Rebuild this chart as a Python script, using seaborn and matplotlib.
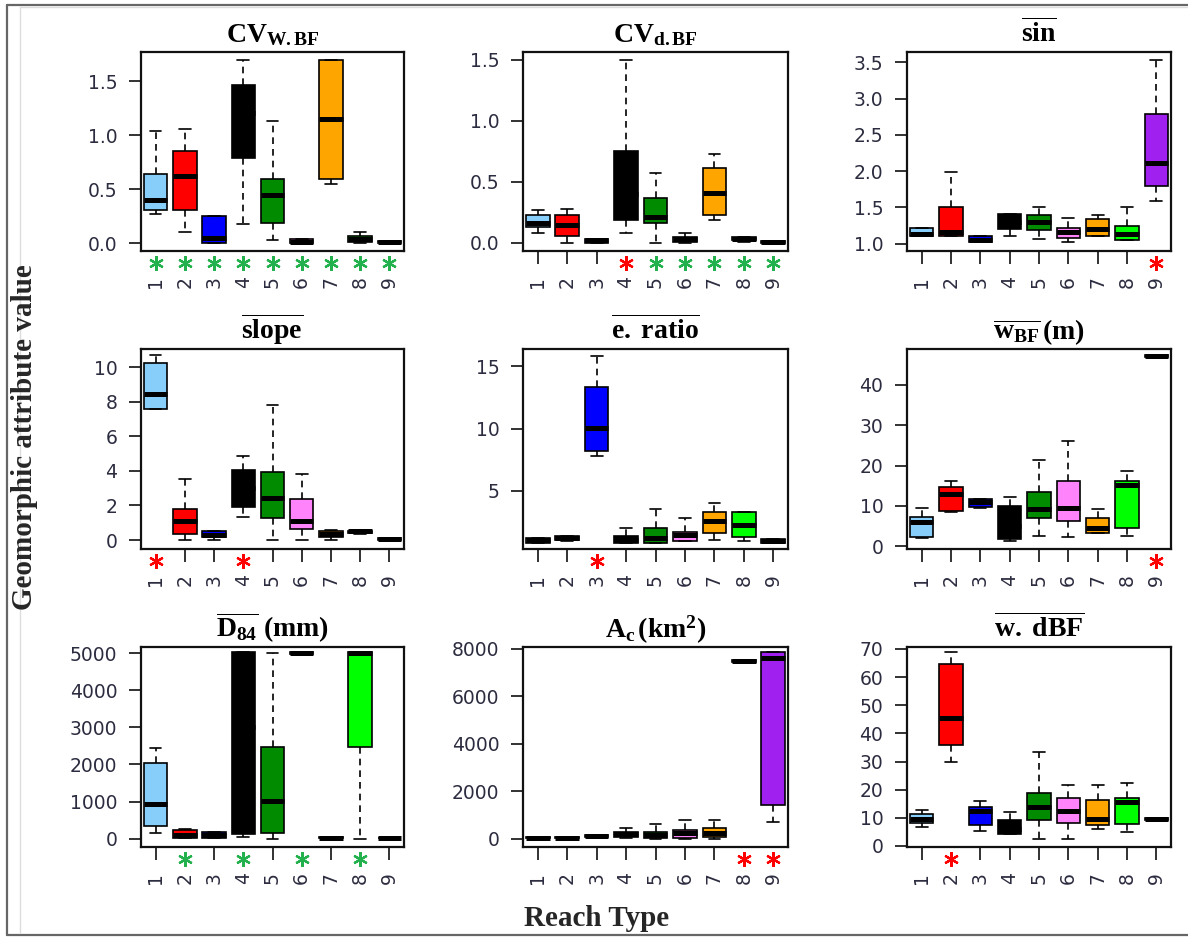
import numpy as np
import pandas as pd
import matplotlib
matplotlib.use("Agg")
import matplotlib.pyplot as plt
import matplotlib.transforms as mtransforms
from matplotlib.lines import Line2D
import seaborn as sns

# ---------------- data ----------------
reach_types = ["1", "2", "3", "4", "5", "6", "7", "8", "9"]
reach_colors = ["#87CEFA", "#FF0000", "#0000FF", "#000000", "#008B00",
                "#FF83FA", "#FFA500", "#00FF00", "#A020F0"]

# five-number summaries per reach type: [min, Q1, median, Q3, max]
cv_wbf = [[0.27, 0.31, 0.40, 0.64, 1.04], [0.10, 0.31, 0.62, 0.85, 1.06],
          [0.00, 0.00, 0.05, 0.25, 0.25], [0.18, 0.79, 1.20, 1.46, 1.69],
          [0.03, 0.19, 0.45, 0.59, 1.13], [0.00, 0.00, 0.01, 0.04, 0.04],
          [0.545, 0.59, 1.15, 1.69, 1.69], [0.00, 0.01, 0.04, 0.07, 0.10],
          [0.00, 0.00, 0.01, 0.02, 0.02]]
cv_dbf = [[0.085, 0.13, 0.165, 0.23, 0.27], [0.00, 0.06, 0.15, 0.23, 0.28],
          [0.00, 0.00, 0.02, 0.035, 0.035], [0.085, 0.19, 0.40, 0.75, 1.50],
          [0.00, 0.165, 0.21, 0.37, 0.575], [0.00, 0.005, 0.03, 0.05, 0.085],
          [0.19, 0.23, 0.41, 0.61, 0.73], [0.01, 0.02, 0.035, 0.045, 0.045],
          [0.00, 0.00, 0.005, 0.015, 0.015]]
sin_mean = [[1.11, 1.11, 1.14, 1.21, 1.21], [1.10, 1.11, 1.16, 1.51, 1.99],
            [1.02, 1.03, 1.05, 1.10, 1.10], [1.105, 1.20, 1.30, 1.405, 1.405],
            [1.06, 1.19, 1.30, 1.40, 1.51], [1.02, 1.08, 1.16, 1.22, 1.36],
            [1.105, 1.105, 1.20, 1.34, 1.40], [1.05, 1.05, 1.14, 1.25, 1.51],
            [1.59, 1.80, 2.11, 2.785, 3.53]]
slope_mean = [[7.58, 7.58, 8.47, 10.25, 10.73], [0.0, 0.35, 1.10, 1.78, 3.54],
              [0.0, 0.15, 0.30, 0.50, 0.50], [1.32, 1.90, 3.00, 4.06, 4.84],
              [0.0, 1.26, 2.42, 3.93, 7.83], [0.0, 0.64, 1.10, 2.38, 3.83],
              [0.0, 0.15, 0.35, 0.55, 0.60], [0.35, 0.40, 0.50, 0.55, 0.55],
              [0.0, 0.0, 0.05, 0.10, 0.10]]
eratio_mean = [[0.75, 0.80, 1.00, 1.15, 1.15], [0.97, 1.00, 1.20, 1.35, 1.35],
               [7.82, 8.20, 10.08, 13.33, 15.80], [0.75, 0.80, 1.00, 1.34, 1.96],
               [0.75, 0.75, 1.20, 1.96, 3.50], [0.97, 0.97, 1.42, 1.69, 2.82],
               [1.02, 1.61, 2.58, 3.31, 4.03], [0.97, 1.29, 2.23, 3.31, 3.31],
               [0.80, 0.80, 0.95, 1.10, 1.10]]
wbf_mean = [[2.0, 2.4, 6.0, 7.3, 9.5], [8.4, 8.8, 13.0, 14.6, 16.1],
            [9.6, 9.7, 10.9, 11.6, 11.6], [1.2, 1.9, 5.0, 9.9, 12.1],
            [2.6, 7.0, 9.2, 13.4, 21.3], [2.2, 6.3, 9.5, 16.1, 26.1],
            [3.2, 3.2, 4.5, 7.1, 9.2], [2.6, 4.65, 15.2, 16.1, 18.6],
            [46.9, 47.0, 47.2, 47.4, 47.4]]
d84_mean = [[162, 333, 920, 2027, 2450], [20, 30, 100, 230, 270],
            [20, 30, 90, 170, 180], [45, 135, 3000, 5018, 5018],
            [0, 162, 1018, 2477, 5000], [4980, 4985, 5000, 5015, 5015],
            [0, 5, 20, 40, 40], [0, 2477, 5000, 5018, 5018],
            [0, 5, 15, 30, 30]]
ac_km2 = [[0, 10, 30, 60, 60], [0, 10, 30, 60, 60],
          [40, 60, 100, 150, 150], [20, 50, 180, 282, 451],
          [0, 40, 150, 282, 635], [0, 40, 250, 381, 804],
          [0, 60, 254, 451, 804], [7400, 7430, 7480, 7530, 7530],
          [705, 1410, 7600, 7856, 7856]]
wdbf_mean = [[6.6, 8.1, 9.5, 11.3, 12.9], [29.8, 36.0, 45.5, 64.7, 68.8],
             [5.4, 7.5, 12.5, 13.9, 15.9], [4.2, 4.3, 6.0, 9.2, 12.2],
             [2.4, 9.2, 13.9, 18.7, 33.4], [2.4, 8.1, 12.3, 17.0, 21.8],
             [6.2, 7.4, 9.5, 16.3, 21.8], [4.8, 7.7, 15.5, 17.0, 22.4],
             [9.2, 9.3, 9.6, 10.0, 10.0]]

panel_data = [cv_wbf, cv_dbf, sin_mean, slope_mean, eratio_mean,
              wbf_mean, d84_mean, ac_km2, wdbf_mean]

panel_titles = [
    r"$\mathbf{CV}_{\mathbf{W.BF}}$",
    r"$\mathbf{CV}_{\mathbf{d.BF}}$",
    r"$\overline{\mathbf{sin}}$",
    r"$\overline{\mathbf{slope}}$",
    r"$\overline{\mathbf{e.\ ratio}}$",
    r"$\overline{\mathbf{w}_{\mathbf{BF}}}\,\mathbf{(m)}$",
    r"$\overline{\mathbf{D}_{\mathbf{84}}}\ \mathbf{(mm)}$",
    r"$\mathbf{A}_{\mathbf{c}}\,\mathbf{(km}^{\mathbf{2}}\mathbf{)}$",
    r"$\overline{\mathbf{w.\ dBF}}$",
]

panel_yticks = [[0, 0.5, 1.0, 1.5], [0, 0.5, 1.0, 1.5], [1.0, 1.5, 2.0, 2.5, 3.0, 3.5],
                [0, 2, 4, 6, 8, 10], [5, 10, 15], [0, 10, 20, 30, 40],
                [0, 1000, 2000, 3000, 4000, 5000], [0, 2000, 4000, 6000, 8000],
                [0, 10, 20, 30, 40, 50, 60, 70]]
panel_yticklabels = [["0.0", "0.5", "1.0", "1.5"], ["0.0", "0.5", "1.0", "1.5"],
                     ["1.0", "1.5", "2.0", "2.5", "3.0", "3.5"],
                     ["0", "2", "4", "6", "8", "10"], ["5", "10", "15"],
                     ["0", "10", "20", "30", "40"],
                     ["0", "1000", "2000", "3000", "4000", "5000"],
                     ["0", "2000", "4000", "6000", "8000"],
                     ["0", "10", "20", "30", "40", "50", "60", "70"]]
panel_ylims = [(-0.071, 1.768), (-0.066, 1.563), (0.90, 3.641),
               (-0.52, 11.06), (0.30, 16.40), (-0.67, 48.9),
               (-225, 5162), (-353, 8082), (-0.36, 70.7)]

GREEN_STAR = "#22B14C"
RED_STAR = "#FF0000"
# significance asterisks: reach type -> colour
panel_stars = [
    {r: GREEN_STAR for r in reach_types},
    {"4": RED_STAR, "5": GREEN_STAR, "6": GREEN_STAR, "7": GREEN_STAR,
     "8": GREEN_STAR, "9": GREEN_STAR},
    {"9": RED_STAR},
    {"1": RED_STAR, "4": RED_STAR},
    {"3": RED_STAR},
    {"9": RED_STAR},
    {"2": GREEN_STAR, "4": GREEN_STAR, "6": GREEN_STAR, "8": GREEN_STAR},
    {"8": RED_STAR, "9": RED_STAR},
    {"2": RED_STAR},
]

# ---------------- style ----------------
sns.set_theme(style="ticks")
plt.rcParams.update({
    "font.family": ["DejaVu Sans"],
    "mathtext.fontset": "custom",
    "mathtext.rm": "Liberation Serif",
    "mathtext.bf": "Liberation Serif:bold",
    "mathtext.it": "Liberation Serif:italic",
})

W, H = 1188, 938
fig = plt.figure(figsize=(W / 100, H / 100), dpi=100)
fig.patch.set_facecolor("white")

col_lr = [(141, 404), (523, 788), (907, 1171)]
row_tb = [(52, 251), (349, 549), (647, 847)]

palette = dict(zip(reach_types, reach_colors))

for i, summ in enumerate(panel_data):
    r, c = divmod(i, 3)
    (x0, x1), (y0, y1) = col_lr[c], row_tb[r]
    ax = fig.add_axes([x0 / W, 1 - y1 / H, (x1 - x0) / W, (y1 - y0) / H])

    df = pd.DataFrame({
        "reach": np.repeat(reach_types, 5),
        "value": np.concatenate([np.asarray(s, dtype=float) for s in summ]),
    })
    sns.boxplot(data=df, x="reach", y="value", hue="reach",
                order=reach_types, hue_order=reach_types, palette=palette,
                legend=False, dodge=False, saturation=1, width=0.8,
                whis=(0, 100), showfliers=False, linecolor="black",
                linewidth=1.2,
                medianprops=dict(color="black", linewidth=3.6,
                                 solid_capstyle="butt"),
                whiskerprops=dict(linestyle=(0, (4, 3))),
                ax=ax)

    ax.set_xlim(-0.5, 8.5)
    ax.set_ylim(*panel_ylims[i])
    ax.set_xlabel("")
    ax.set_ylabel("")
    ax.set_yticks(panel_yticks[i], panel_yticklabels[i])
    ax.set_xticks(range(len(reach_types)), reach_types)
    ax.tick_params(axis="both", direction="out", length=9, width=1.3,
                   color="#222222", labelsize=13.5, labelcolor="#2c2c40",
                   pad=8, bottom=True, left=True)
    ax.tick_params(axis="x", labelrotation=90, pad=9)
    for sp in ax.spines.values():
        sp.set_visible(True)
        sp.set_linewidth(1.6)
        sp.set_color("#111111")

    ax.set_title(panel_titles[i], fontsize=20, pad=7, color="black")

    # asterisks replace the tick marks
    stars = panel_stars[i]
    xticks = ax.xaxis.get_major_ticks()
    offset = mtransforms.ScaledTranslation(0, -12 / 100, fig.dpi_scale_trans)
    for rt, col in stars.items():
        k = reach_types.index(rt)
        xticks[k].tick1line.set_visible(False)
        ax.plot([k], [0], transform=ax.get_xaxis_transform() + offset,
                marker=(6, 2, 0), markersize=10.5, markeredgewidth=1.6,
                color=col, linestyle="none", clip_on=False)

# axis labels for the whole figure
fig.text(25 / W, 1 - 437 / H, "Geomorphic attribute value", rotation=90,
         ha="center", va="center", fontsize=21, fontweight="bold",
         family="Liberation Serif")
fig.text(597 / W, 1 - 926 / H, "Reach Type", ha="center", va="baseline",
         fontsize=21, fontweight="bold", family="Liberation Serif")

# outer frame
def fline(xs, ys, color, lw):
    fig.add_artist(Line2D([x / W for x in xs], [1 - y / H for y in ys],
                          transform=fig.transFigure, color=color, lw=lw))

fline([7, W], [5, 5], "#666666", 1.6)
fline([7, 7], [5, 935], "#666666", 1.6)
fline([7, W], [935, 935], "#666666", 1.6)
fline([20, 20], [7, 933], "#DDDDDD", 1.0)
fline([20, W], [7, 7], "#DDDDDD", 1.0)

fig.savefig("out.png", dpi=100)
